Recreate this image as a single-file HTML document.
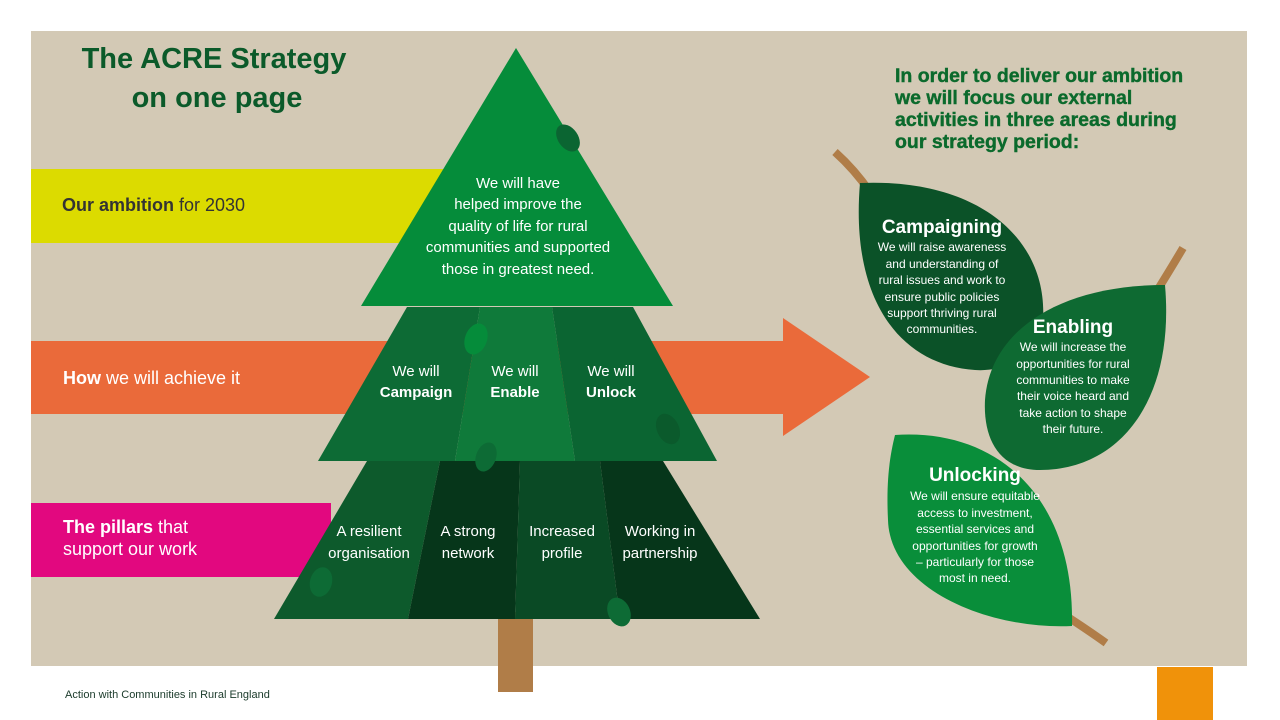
<!DOCTYPE html>
<html><head><meta charset="utf-8"><style>
html,body{margin:0;padding:0;background:#fff;}
svg{display:block;font-family:"Liberation Sans",sans-serif;}
</style></head><body>
<svg width="1280" height="720" viewBox="0 0 1280 720" xmlns="http://www.w3.org/2000/svg">
<rect x="0" y="0" width="1280" height="720" fill="#fff"/>
<rect x="31" y="31" width="1216" height="635" fill="#d3c9b5"/>
<rect x="1157" y="667" width="56" height="53" fill="#f0920a"/>
<!-- bands -->
<rect x="31" y="169" width="420" height="74" fill="#dcdb00"/>
<rect x="31" y="341" width="755" height="73" fill="#ea6a3a"/>
<polygon points="783,318 870,377 783,436" fill="#ea6a3a"/>
<rect x="31" y="503" width="300" height="74" fill="#e2087f"/>
<!-- trunk -->
<rect x="498" y="612" width="35" height="80" fill="#b07d48"/>
<!-- bottom tier -->
<polygon points="367,461 440,461 408,619 274,619" fill="#0d5a2c"/>
<polygon points="440,461 520,461 515,619 408,619" fill="#06361a"/>
<polygon points="520,461 600,461 620,619 515,619" fill="#0a4a25"/>
<polygon points="600,461 663,461 760,619 620,619" fill="#06361a"/>
<!-- middle tier -->
<polygon points="407,307 480,307 455,461 318,461" fill="#0d6b35"/>
<polygon points="480,307 552,307 575,461 455,461" fill="#0f7a3a"/>
<polygon points="552,307 633,307 717,461 575,461" fill="#0b6532"/>
<!-- top -->
<polygon points="516,48 673,306 361,306" fill="#058c3a"/>
<!-- small leaves on tree -->
<ellipse cx="568" cy="138" rx="10" ry="15" transform="rotate(-35 568 138)" fill="#0b6532"/>
<ellipse cx="476" cy="339" rx="11" ry="16" transform="rotate(20 476 339)" fill="#058c3a"/>
<ellipse cx="668" cy="429" rx="11" ry="16" transform="rotate(-25 668 429)" fill="#0b5a2c"/>
<ellipse cx="486" cy="457" rx="10" ry="15" transform="rotate(20 486 457)" fill="#0d6b35"/>
<ellipse cx="321" cy="582" rx="11" ry="15" transform="rotate(15 321 582)" fill="#0d6b35"/>
<ellipse cx="619" cy="612" rx="11" ry="15" transform="rotate(-25 619 612)" fill="#0d6b35"/>
<!-- leaves right -->
<path d="M835,152 Q855,170 870,192" stroke="#b07d48" stroke-width="8" fill="none"/>
<path d="M1183,248 Q1170,270 1155,294" stroke="#b07d48" stroke-width="8" fill="none"/>
<path d="M1060,612 Q1085,628 1106,643" stroke="#b07d48" stroke-width="8" fill="none"/>
<path d="M860,183 C980,178 1048,240 1043,320 C1040,360 1000,372 975,370 C900,365 850,300 860,183 Z" fill="#0b5228"/>
<path d="M1165,285 C1175,400 1120,470 1040,470 C1000,470 983,440 985,400 C990,330 1060,285 1165,285 Z" fill="#0e6a32"/>
<path d="M895,435 C1000,428 1075,500 1072,626 C990,630 890,590 888,520 C886,480 890,455 895,435 Z" fill="#098e3a"/>
<!-- titles -->
<g fill="#0b5a2a" font-weight="bold" font-size="29" text-anchor="middle">
<text x="214" y="68">The ACRE Strategy</text>
<text x="217" y="107">on one page</text>
</g>
<g fill="#0b6a2c" font-weight="bold" font-size="19.5" stroke="#0b6a2c" stroke-width="0.4">
<text x="895" y="82">In order to deliver our ambition</text>
<text x="895" y="104">we will focus our external</text>
<text x="895" y="126">activities in three areas during</text>
<text x="895" y="148">our strategy period:</text>
</g>
<!-- bands text -->
<text x="62" y="211" font-size="18" fill="#333"><tspan font-weight="bold">Our ambition</tspan> for 2030</text>
<text x="63" y="384" font-size="18" fill="#fff"><tspan font-weight="bold">How</tspan> we will achieve it</text>
<text x="63" y="533" font-size="18" fill="#fff"><tspan font-weight="bold">The pillars</tspan> that</text>
<text x="63" y="555" font-size="18" fill="#fff">support our work</text>
<!-- tree text -->
<g fill="#fff" font-size="15" text-anchor="middle">
<text x="518" y="188">We will have</text>
<text x="518" y="209">helped improve the</text>
<text x="518" y="231">quality of life for rural</text>
<text x="518" y="252">communities and supported</text>
<text x="518" y="274">those in greatest need.</text>
<text x="416" y="376">We will</text>
<text x="416" y="397" font-weight="bold">Campaign</text>
<text x="515" y="376">We will</text>
<text x="515" y="397" font-weight="bold">Enable</text>
<text x="611" y="376">We will</text>
<text x="611" y="397" font-weight="bold">Unlock</text>
<text x="369" y="536">A resilient</text>
<text x="369" y="558">organisation</text>
<text x="468" y="536">A strong</text>
<text x="468" y="558">network</text>
<text x="562" y="536">Increased</text>
<text x="562" y="558">profile</text>
<text x="660" y="536">Working in</text>
<text x="660" y="558">partnership</text>
</g>
<!-- leaf text -->
<g fill="#fff" text-anchor="middle">
<text x="942" y="233" font-size="19" font-weight="bold">Campaigning</text>
<text x="1073" y="333" font-size="19" font-weight="bold">Enabling</text>
<text x="975" y="481" font-size="19" font-weight="bold">Unlocking</text>
<g font-size="12">
<text x="942" y="251">We will raise awareness</text>
<text x="942" y="268">and understanding of</text>
<text x="942" y="284">rural issues and work to</text>
<text x="942" y="301">ensure public policies</text>
<text x="942" y="317">support thriving rural</text>
<text x="942" y="333">communities.</text>
<text x="1073" y="351">We will increase the</text>
<text x="1073" y="368">opportunities for rural</text>
<text x="1073" y="384">communities to make</text>
<text x="1073" y="400">their voice heard and</text>
<text x="1073" y="417">take action to shape</text>
<text x="1073" y="433">their future.</text>
<text x="975" y="500">We will ensure equitable</text>
<text x="975" y="517">access to investment,</text>
<text x="975" y="533">essential services and</text>
<text x="975" y="550">opportunities for growth</text>
<text x="975" y="566">– particularly for those</text>
<text x="975" y="582">most in need.</text>
</g>
</g>
<text x="65" y="698" font-size="11" fill="#1a3a2a">Action with Communities in Rural England</text>
</svg>
</body></html>
